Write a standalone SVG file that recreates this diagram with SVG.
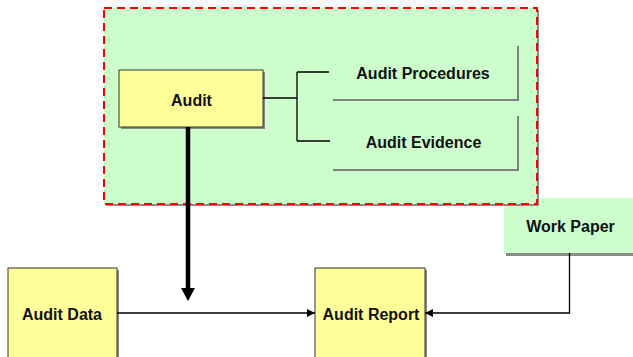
<svg xmlns="http://www.w3.org/2000/svg" width="633" height="357" viewBox="0 0 633 357">
  <defs>
    <marker id="tip" viewBox="0 0 8 8" refX="8" refY="4" markerWidth="8" markerHeight="8" markerUnits="userSpaceOnUse" orient="auto">
      <path d="M0,0 L8,4 L0,8 Z" fill="#000"/>
    </marker>
  </defs>
  <style>
    .shadow { fill: #8a8a8a; }
    .yellow { fill: #ffff99; stroke: #333; stroke-width: 1; }
    .green { fill: #ccffcc; }
    .label { font-family: "Liberation Sans", Arial, sans-serif; font-weight: bold; font-size: 16px; fill: #111; text-anchor: middle; }
    .wire { fill: none; stroke: #000; stroke-width: 1.3; }
    .bracket { fill: none; stroke: #808080; stroke-width: 2; }
  </style>
  <rect width="633" height="357" fill="#ffffff"/>

  <!-- Work Paper (partly under the audit scope panel) -->
  <g id="work-paper">
    <rect class="shadow" x="506" y="200" width="140" height="56"/>
    <rect class="green" x="504" y="198" width="140" height="55"/>
    <text class="label" x="570.5" y="232">Work Paper</text>
  </g>

  <!-- Audit scope panel -->
  <g id="audit-scope">
    <rect class="shadow" x="106" y="10" width="433" height="196"/>
    <rect x="104" y="8" width="433" height="196" fill="#ccffcc" stroke="#ff0000" stroke-width="2" stroke-dasharray="8 5"/>
  </g>

  <g id="audit">
    <rect class="shadow" x="121" y="72" width="144" height="57"/>
    <rect class="yellow" x="119" y="70" width="144" height="57"/>
    <text class="label" x="191.5" y="106">Audit</text>
  </g>

  <g id="audit-procedures">
    <path class="bracket" d="M518,46 V100 H333"/>
    <text class="label" x="423" y="79">Audit Procedures</text>
  </g>

  <g id="audit-evidence">
    <path class="bracket" d="M518,116 V170 H333"/>
    <text class="label" x="423.5" y="148">Audit Evidence</text>
  </g>

  <g id="audit-data">
    <rect class="shadow" x="10" y="270" width="109" height="95"/>
    <rect class="yellow" x="8" y="268" width="109" height="95"/>
    <text class="label" x="62" y="320">Audit Data</text>
  </g>

  <g id="audit-report">
    <rect class="shadow" x="317" y="270" width="110" height="95"/>
    <rect class="yellow" x="315" y="268" width="110" height="95"/>
    <text class="label" x="371" y="319.5">Audit Report</text>
  </g>

  <g id="connectors">
    <path class="wire" d="M263,98 H297 M297,72 V141 M297,72 H329 M297,141 H330"/>
    <line x1="188" y1="127" x2="188" y2="289" stroke="#000" stroke-width="4.5"/>
    <polygon points="181,288 195,288 188,301" fill="#000"/>
    <path class="wire" d="M117,313 H315" marker-end="url(#tip)"/>
    <path class="wire" d="M569.5,253 V313 H425" marker-end="url(#tip)"/>
  </g>
</svg>
